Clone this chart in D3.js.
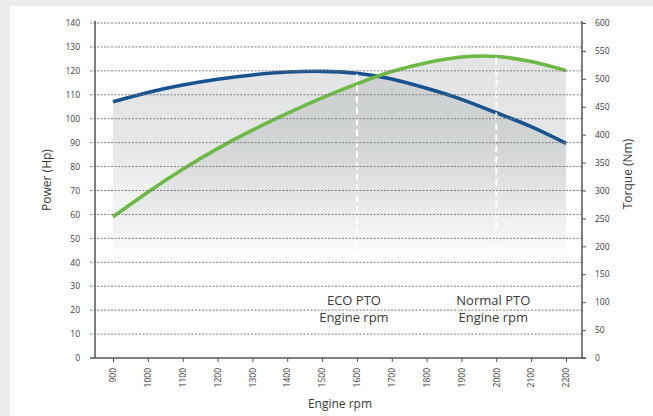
<html>

<head>
    <script src="https://d3js.org/d3.v7.min.js"></script>
</head>

<body style="margin:0;background:#ebebeb">
    <svg></svg>
    <script>
        // engine curves
        const rpm = [900, 1000, 1100, 1200, 1300, 1400, 1500, 1600, 1700, 1800, 1900, 2000, 2100, 2200];
        const powerHp = [107.1, 111.0, 114.1, 116.5, 118.3, 119.5, 119.8, 119.0, 116.6, 112.7, 108.1, 102.5, 96.7, 89.7];
        const torqueNm = [253, 297, 338, 375, 408, 438, 466, 491, 513, 529, 539, 540, 531, 515];

        const powerTicks = [0, 10, 20, 30, 40, 50, 60, 70, 80, 90, 100, 110, 120, 130, 140];
        const torqueTicks = [0, 50, 100, 150, 200, 250, 300, 350, 400, 450, 500, 550, 600];

        const ptoRpm = [1600, 2000];
        const ptoLabels = [["ECO PTO", "Engine rpm"], ["Normal PTO", "Engine rpm"]];

        const blue = "#17538f"
        const green = "#6cba45"
        const textColor = "#3a3a3a"
        const font = "'Open Sans', sans-serif"

        const width = 653
        const height = 416
        const axisLeft = 95
        const axisRight = 582
        const plotTop = 23
        const plotBottom = 358
        const fadeBottom = 262

        const xScale = d3.scaleLinear([900, 2200], [113, 566]);
        const yPower = d3.scaleLinear([0, 140], [plotBottom, plotTop]);
        const yTorque = d3.scaleLinear([0, 600], [plotBottom, plotTop]);

        const svg = d3.select("svg")
            .attr("width", width)
            .attr("height", height)
            .attr("viewBox", [0, 0, width, height])
            .style("display", "block")
            .style("font-family", font);

        // white card on grey page
        svg.append("rect")
            .attr("x", 10).attr("y", 6)
            .attr("width", width - 10).attr("height", height - 6)
            .attr("fill", "#fff");

        // fading grey fill
        const grad = svg.append("defs").append("linearGradient")
            .attr("id", "fade")
            .attr("gradientUnits", "userSpaceOnUse")
            .attr("x1", 0).attr("x2", 0)
            .attr("y1", 40).attr("y2", fadeBottom);
        grad.append("stop").attr("offset", 0).attr("stop-color", "#8c9296").attr("stop-opacity", 0.25);
        grad.append("stop").attr("offset", 0.45).attr("stop-color", "#8c9296").attr("stop-opacity", 0.23);
        grad.append("stop").attr("offset", 0.8).attr("stop-color", "#8c9296").attr("stop-opacity", 0.08);
        grad.append("stop").attr("offset", 1).attr("stop-color", "#8c9296").attr("stop-opacity", 0);

        const I = d3.range(rpm.length);
        const curve = d3.curveNatural;

        const powerArea = d3.area().curve(curve)
            .x(i => xScale(rpm[i])).y0(plotBottom).y1(i => yPower(powerHp[i]));
        const torqueArea = d3.area().curve(curve)
            .x(i => xScale(rpm[i])).y0(plotBottom).y1(i => yTorque(torqueNm[i]));

        svg.append("path").attr("d", powerArea(I)).attr("fill", "url(#fade)");
        svg.append("path").attr("d", torqueArea(I)).attr("fill", "url(#fade)");

        // curves
        const powerLine = d3.line().curve(curve)
            .x(i => xScale(rpm[i])).y(i => yPower(powerHp[i]));
        const torqueLine = d3.line().curve(curve)
            .x(i => xScale(rpm[i])).y(i => yTorque(torqueNm[i]));

        svg.append("path")
            .attr("d", powerLine(I))
            .attr("fill", "none")
            .attr("stroke", blue)
            .attr("stroke-width", 3.6);
        svg.append("path")
            .attr("d", torqueLine(I))
            .attr("fill", "none")
            .attr("stroke", green)
            .attr("stroke-width", 3.6);

        // PTO markers
        ptoRpm.forEach((r, k) => {
            const i = rpm.indexOf(r);
            const top = Math.min(yPower(powerHp[i]), yTorque(torqueNm[i])) + 1;
            svg.append("line")
                .attr("x1", xScale(r)).attr("x2", xScale(r))
                .attr("y1", top).attr("y2", fadeBottom)
                .attr("stroke", "#fff")
                .attr("stroke-width", 2)
                .attr("stroke-dasharray", "7,4");
            svg.append("text")
                .attr("x", xScale(r) - 3)
                .attr("y", 305)
                .attr("text-anchor", "middle")
                .attr("font-size", 13)
                .attr("fill", textColor)
                .selectAll("tspan")
                .data(ptoLabels[k])
                .join("tspan")
                .attr("x", xScale(r) - 3)
                .attr("dy", (d, j) => j === 0 ? 0 : 17)
                .text(d => d);
        });

        // dotted grid at power ticks
        svg.append("g")
            .selectAll("line")
            .data(powerTicks.filter(t => t > 0))
            .join("line")
            .attr("x1", 90).attr("x2", axisRight)
            .attr("y1", d => yPower(d)).attr("y2", d => yPower(d))
            .attr("stroke", "#7d7d7d")
            .attr("stroke-width", 1)
            .attr("stroke-dasharray", "2,1.5");

        // left axis
        const leftAxis = svg.append("g")
            .attr("transform", `translate(${axisLeft},0)`)
            .call(d3.axisLeft(yPower).tickValues(powerTicks).tickSize(0).tickPadding(15));
        leftAxis.select(".domain").attr("d", `M0,${plotTop - 2}V${plotBottom}`).attr("stroke", "#555").attr("stroke-width", 1.5);
        leftAxis.selectAll("text").attr("font-size", 8.5).attr("fill", textColor).attr("font-family", font);

        // right axis
        const rightAxis = svg.append("g")
            .attr("transform", `translate(${axisRight},0)`)
            .call(d3.axisRight(yTorque).tickValues(torqueTicks).tickSize(4).tickPadding(9));
        rightAxis.select(".domain").attr("d", `M0,${plotTop - 2}V${plotBottom}`).attr("stroke", "#555").attr("stroke-width", 1.5);
        rightAxis.selectAll(".tick line").attr("stroke", "#555");
        rightAxis.selectAll("text").attr("font-size", 8.5).attr("fill", textColor).attr("font-family", font);

        // bottom axis
        const bottomAxis = svg.append("g")
            .attr("transform", `translate(0,${plotBottom})`)
            .call(d3.axisBottom(xScale).tickValues(rpm).tickFormat(d3.format("d")).tickSize(4));
        bottomAxis.select(".domain").attr("d", `M90,0H${axisRight + 4}`).attr("stroke", "#555").attr("stroke-width", 1.5);
        bottomAxis.selectAll(".tick line").attr("stroke", "#555");
        bottomAxis.selectAll("text")
            .attr("font-size", 8.5)
            .attr("fill", textColor)
            .attr("font-family", font)
            .attr("text-anchor", "end")
            .attr("dy", "0.32em")
            .attr("transform", "translate(0,10) rotate(-90)")
            .attr("x", 0).attr("y", 0);

        // axis titles
        svg.append("text")
            .attr("transform", "translate(51,180) rotate(-90)")
            .attr("text-anchor", "middle")
            .attr("font-size", 12)
            .attr("fill", textColor)
            .text("Power (Hp)");
        svg.append("text")
            .attr("transform", "translate(632,174) rotate(-90)")
            .attr("text-anchor", "middle")
            .attr("font-size", 12)
            .attr("fill", textColor)
            .text("Torque (Nm)");
        svg.append("text")
            .attr("x", 340).attr("y", 408)
            .attr("text-anchor", "middle")
            .attr("font-size", 12)
            .attr("fill", textColor)
            .text("Engine rpm");
    </script>
</body>

</html>
